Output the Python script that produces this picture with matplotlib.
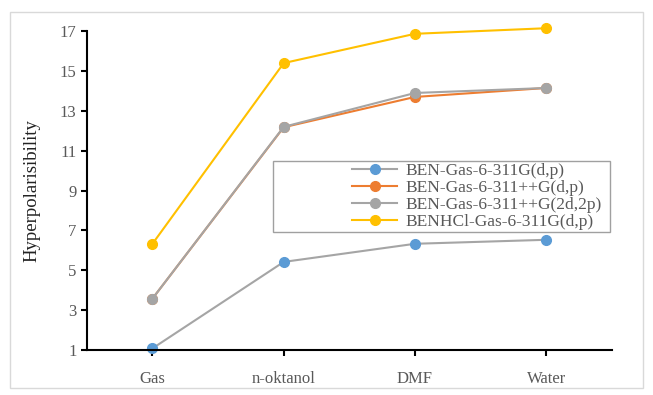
import matplotlib.pyplot as plt
from matplotlib.patches import Rectangle

plt.rcParams['font.family'] = ['Liberation Serif', 'DejaVu Serif']

categories = ['Gas', 'n-oktanol', 'DMF', 'Water']
ben_631g = [1.08, 5.42, 6.33, 6.53]
ben_6311pp = [3.58, 12.18, 13.7, 14.15]
ben_6311pp_2d = [3.58, 12.2, 13.9, 14.15]
benhcl_631g = [6.33, 15.4, 16.87, 17.15]
labels = ['BEN-Gas-6-311G(d,p)', 'BEN-Gas-6-311++G(d,p)',
          'BEN-Gas-6-311++G(2d,2p)', 'BENHCl-Gas-6-311G(d,p)']

fig = plt.figure(figsize=(6.53, 3.95), dpi=100)
ax = fig.add_axes([0.133, 0.114, 0.804, 0.807])

x = range(len(categories))
series = [ben_631g, ben_6311pp, ben_6311pp_2d, benhcl_631g]
line_cols = ['#a5a5a5', '#ed7d31', '#a5a5a5', '#ffc000']
mark_cols = ['#5b9bd5', '#ed7d31', '#a5a5a5', '#ffc000']
for s, lc, mc, lab in zip(series, line_cols, mark_cols, labels):
    ax.plot(x, s, color=lc, lw=1.5, marker='o', ms=7, mfc=mc, mec=mc,
            label=lab, clip_on=False)

ax.set_xlim(-0.5, 3.5)
ax.set_ylim(1, 17)
ax.set_yticks(range(1, 18, 2))
ax.set_xticks(list(x))
ax.set_xticklabels(categories)
ax.tick_params(axis='both', colors='black', labelcolor='#595959', labelsize=12,
               direction='out', length=4, width=1.5)
ax.tick_params(axis='x', pad=11)
for sp in ['top', 'right']:
    ax.spines[sp].set_visible(False)
for sp in ['left', 'bottom']:
    ax.spines[sp].set_linewidth(1.5)
ax.set_ylabel('Hyperpolarisibility', fontsize=13.5, color='#222222', labelpad=14)

# legend without its own frame, box drawn separately (Excel-like wide box)
leg = ax.legend(loc='upper left', bbox_to_anchor=(352 / 653, 1 - 163 / 395),
                bbox_transform=fig.transFigure, frameon=False,
                fontsize=12.5, handlelength=2.6, borderpad=0,
                labelspacing=0.05, handletextpad=0.5, borderaxespad=0)
for t in leg.get_texts():
    t.set_color('#595959')
fig.patches.append(Rectangle((273 / 653, 1 - 232 / 395), 337 / 653, 71 / 395,
                             transform=fig.transFigure, fill=False,
                             edgecolor='#a0a0a0', lw=1))

fig.patches.append(Rectangle((10 / 653, 1 - 388 / 395), 633 / 653, 376 / 395,
                             transform=fig.transFigure, fill=False,
                             edgecolor='#d9d9d9', lw=1))

fig.savefig('out.png', dpi=100)
